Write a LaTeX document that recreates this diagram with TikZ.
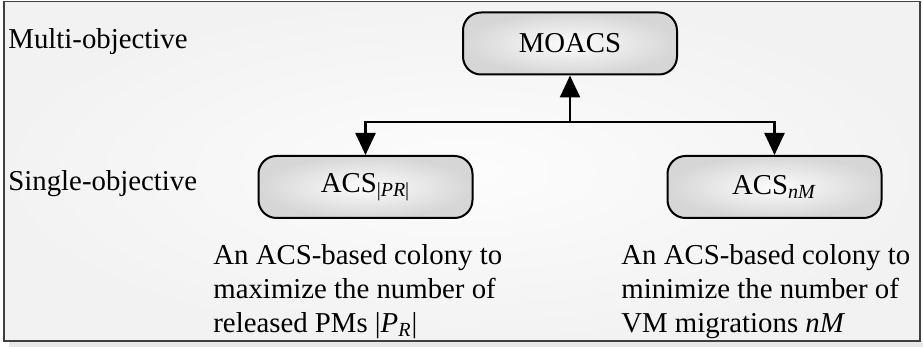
\documentclass[tikz,border=0pt]{standalone}
\usepackage{fontspec}
\setmainfont{Liberation Serif}
\usetikzlibrary{arrows.meta}
\tikzset{
	level/.style={anchor=base west,inner sep=0pt,font=\fontsize{14.4}{17}\selectfont},
	colony/.style={draw,line width=1pt,rounded corners=9pt,minimum width=107pt,minimum height=31pt,shade,shading=radial,inner color=gray!2,outer color=gray!32,font=\fontsize{14.4}{17}\selectfont},
	descr/.style={anchor=north west,inner sep=0pt,align=left,font=\fontsize{14.4}{17}\selectfont},
	link/.style={line width=1.2pt,-{Triangle[length=11pt,width=10pt]}}
}
\begin{document}
\begin{tikzpicture}[x=0.5pt,y=-0.5pt]
		\useasboundingbox (0,0) rectangle (923,347);
		\fill [gray!18] (9,341) rectangle (923,347);
		\shade [inner color=gray!2,outer color=gray!10,draw=black!75,line width=0.8pt] (4,1.5) rectangle (920,341);
		\node [level] (multi) at (8,49) {Multi-objective};
		\node [level] (single) at (8,191) {Single-objective};
		\node [colony] (moacs) at (570,43.5) {MOACS};
		\node [colony] (acspr) at (365.5,187) {ACS\textsubscript{|\textit{PR}|}};
		\node [colony] (acsnm) at (774.5,187) {ACS\textsubscript{\textit{nM}}};
		\coordinate (bus) at (570,122);
		\draw [link] (bus) -| (acspr.north);
		\draw [link] (bus) -| (acsnm.north);
		\draw [link] (bus) -- (moacs.south);
		\node [descr] (prtext) at (213,244) {An ACS-based colony to\\maximize the number of\\released PMs |\textit{P}\textsubscript{\textit{R}}|};
		\node [descr] (nmtext) at (621,244) {An ACS-based colony to\\minimize the number of\\VM migrations \textit{nM}};
	\end{tikzpicture}
\end{document}
